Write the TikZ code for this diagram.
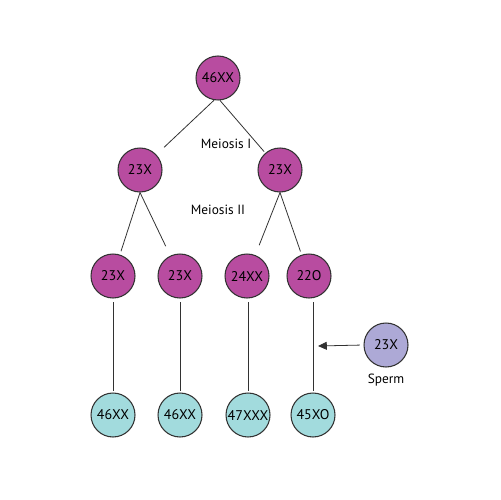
\documentclass[tikz,border=0pt]{standalone}
\usepackage{fontspec}
\setmainfont{PT Sans}
\usetikzlibrary{arrows.meta}

\definecolor{cellpink}{RGB}{184,76,160}
\definecolor{cellteal}{RGB}{162,219,221}
\definecolor{celllilac}{RGB}{173,169,214}
\definecolor{linegray}{RGB}{50,50,50}

\tikzset{
    cell/.style={circle, draw=linegray, line width=0.6pt, minimum size=0.88cm, inner sep=0pt,
                 font=\fontsize{8}{9}\selectfont},
    oocyte/.style={cell, fill=cellpink},
    zygote/.style={cell, fill=cellteal},
    sperm/.style={cell, fill=celllilac},
    split/.style={draw=linegray, line width=0.45pt},
    steplabel/.style={font=\fontsize{7.6}{9}\selectfont}
}

\begin{document}
\begin{tikzpicture}[x=0.02cm, y=-0.02cm]
    \fill[white] (0,0) rectangle (500,500);

    % =========================================================
    % MEIOSI I
    % =========================================================
    \node[oocyte] (top) at (218, 78) {46XX};
    \node[oocyte] (secL) at (140, 170) {23X};
    \node[oocyte] (secR) at (280, 170) {23X};
    \node[steplabel] (mI) at (226, 144) {Meiosis I};

    \draw[split, shorten >=6pt] (top.-100) -- (secL);
    \draw[split, shorten >=1pt] (top.-85) -- (secR);

    % =========================================================
    % MEIOSI II
    % =========================================================
    \node[steplabel] (mII) at (218, 210) {Meiosis II};
    \node[oocyte] (ovA) at (113, 276) {23X};
    \node[oocyte] (ovB) at (180, 276) {23X};
    \node[oocyte] (ovC) at (247, 276) {24XX};
    \node[oocyte] (ovD) at (309, 276) {22O};

    \draw[split, shorten >=2pt] (secL.-90) -- (ovA);
    \draw[split, shorten >=6pt] (secL.-90) -- (ovB);
    \draw[split, shorten >=6pt] (secR.-90) -- (ovC);
    \draw[split, shorten >=2pt] (secR.-90) -- (ovD);

    % =========================================================
    % FECONDAZIONE
    % =========================================================
    \node[sperm] (sp) at (386, 345) {23X};
    \node[steplabel, below=0pt] (spLabel) at (sp.south) {Sperm};
    \coordinate (hit) at (318, 346);
    \draw[split, -{Triangle[length=5pt, width=4.5pt]}, shorten <=2pt] (sp.west) -- (hit);

    \node[zygote] (zgA) at (113, 415) {46XX};
    \node[zygote] (zgB) at (180, 415) {46XX};
    \node[zygote] (zgC) at (248, 415) {47XXX};
    \node[zygote] (zgD) at (313, 415) {45XO};

    \draw[split, shorten <=2pt, shorten >=1pt] (ovA) -- (zgA);
    \draw[split, shorten <=2pt, shorten >=1pt] (ovB) -- (zgB);
    \draw[split, shorten <=2pt, shorten >=1pt] (zgC |- ovC.south) -- (zgC.north);
    \draw[split, shorten <=2pt, shorten >=1pt] (zgD |- ovD.south) -- (zgD.north);
\end{tikzpicture}
\end{document}
